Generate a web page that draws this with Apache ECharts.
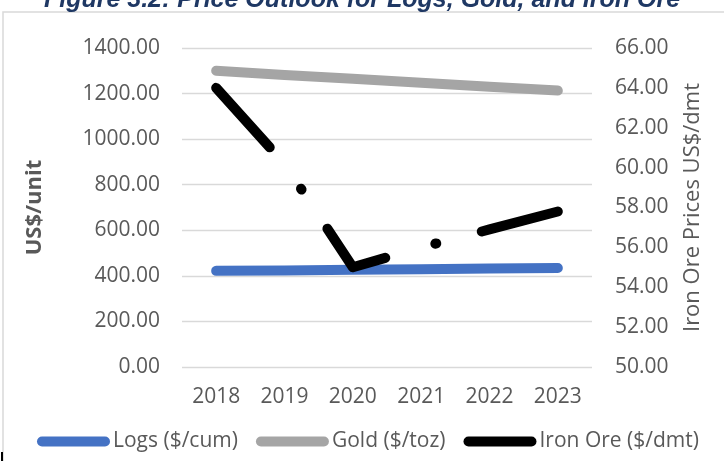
<!DOCTYPE html>
<html>
<head>
<meta charset="utf-8">
<script src="https://cdn.jsdelivr.net/npm/echarts@6/dist/echarts.min.js"></script>
<style>
  html, body { margin: 0; padding: 0; background: #fff; }
  #chart { width: 724px; height: 461px; }
</style>
</head>
<body>
<div id="chart"></div>
<script>
// data
const years = ['2018', '2019', '2020', '2021', '2022', '2023'];
const logs = [422, 424, 427, 429, 432, 434];
const gold = [1300, 1282, 1265, 1248, 1230, 1213];
const ironOre = [64.0, 60.2, 55.0, 56.0, 56.9, 57.8];

const labelColor = '#595959';
const font = 'Open Sans';
const capsule = 'path://M5,0 H68 A5,5 0 0 1 68,10 H5 A5,5 0 0 1 5,0 Z';

const chart = echarts.init(document.getElementById('chart'), null, { renderer: 'canvas' });

chart.setOption({
  animation: false,
  backgroundColor: '#fff',
  title: {
    text: 'Figure 3.2: Price Outlook for Logs, Gold, and Iron Ore',
    left: 'center',
    top: -17,
    textStyle: {
      fontFamily: 'Liberation Sans',
      fontSize: 25,
      fontWeight: 'bold',
      fontStyle: 'italic',
      color: '#1F3864'
    }
  },
  graphic: [
    {
      type: 'rect',
      shape: { x: 3, y: 12, width: 730, height: 460 },
      style: { fill: 'none', stroke: '#d9d9d9', lineWidth: 1.5 },
      silent: true
    },
    {
      type: 'rect',
      shape: { x: 1, y: 452, width: 2, height: 9 },
      style: { fill: '#000' },
      silent: true
    }
  ],
  grid: { left: 182, right: 132, top: 48, height: 319 },
  legend: {
    left: 32,
    top: 426,
    itemWidth: 73,
    itemHeight: 10,
    itemGap: 18,
    icon: capsule,
    textStyle: { fontFamily: font, fontSize: 21, color: labelColor, padding: [0, 0, 0, -2] },
    data: ['Logs ($/cum)', 'Gold ($/toz)', 'Iron Ore ($/dmt)']
  },
  xAxis: {
    type: 'category',
    data: years,
    boundaryGap: true,
    axisLine: { show: false },
    axisTick: { show: false },
    axisLabel: { fontFamily: font, fontSize: 21, color: labelColor, margin: 20 }
  },
  yAxis: [
    {
      type: 'value',
      min: 0,
      max: 1400,
      interval: 200,
      name: 'US$/unit',
      nameLocation: 'middle',
      nameGap: 136,
      nameTextStyle: { fontFamily: font, fontSize: 22, fontWeight: 'bold', color: labelColor },
      axisLine: { show: false },
      axisTick: { show: false },
      splitLine: { lineStyle: { color: '#d9d9d9', width: 1.3 } },
      axisLabel: {
        fontFamily: font, fontSize: 21, color: labelColor, margin: 22,
        formatter: v => v.toFixed(2)
      }
    },
    {
      type: 'value',
      min: 50,
      max: 66,
      interval: 2,
      position: 'right',
      name: 'Iron Ore Prices US$/dmt',
      nameLocation: 'middle',
      nameGap: 90,
      nameTextStyle: { fontFamily: font, fontSize: 22, color: labelColor },
      axisLine: { show: false },
      axisTick: { show: false },
      splitLine: { show: false },
      axisLabel: {
        fontFamily: font, fontSize: 21, color: labelColor, margin: 23,
        formatter: v => v.toFixed(2)
      }
    }
  ],
  series: [
    {
      name: 'Logs ($/cum)',
      type: 'line',
      data: logs,
      symbol: 'none',
      itemStyle: { color: '#4472C4' },
      lineStyle: { color: '#4472C4', width: 10, cap: 'round', join: 'round' }
    },
    {
      name: 'Gold ($/toz)',
      type: 'line',
      data: gold,
      symbol: 'none',
      itemStyle: { color: '#A5A5A5' },
      lineStyle: { color: '#A5A5A5', width: 10, cap: 'round', join: 'round' }
    },
    {
      name: 'Iron Ore ($/dmt)',
      type: 'line',
      yAxisIndex: 1,
      data: ironOre,
      symbol: 'none',
      itemStyle: { color: '#000' },
      lineStyle: {
        color: '#000', width: 10, cap: 'round', join: 'round',
        type: [80, 52, 1, 47]
      }
    }
  ]
});
</script>
</body>
</html>
